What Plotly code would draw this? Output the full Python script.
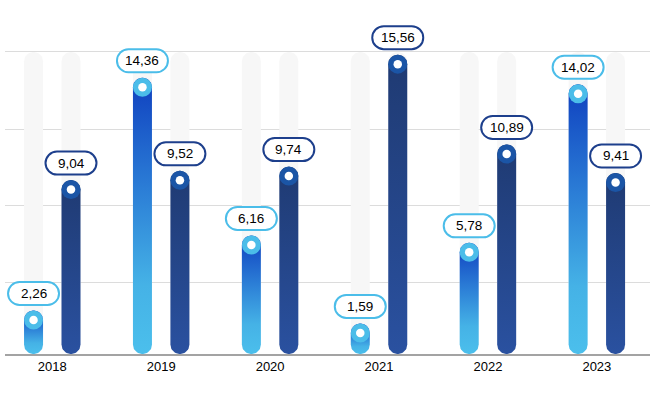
import numpy as np
import plotly.graph_objects as go

# ---------------- data ----------------
years = ["2018", "2019", "2020", "2021", "2022", "2023"]
series_light = [2.26, 14.36, 6.16, 1.59, 5.78, 14.02]
series_dark = [9.04, 9.52, 9.74, 15.56, 10.89, 9.41]
background_level = 15.70
grid_values = [3.74, 7.74, 11.69, 15.70]

# ---------------- styling / geometry ----------------
W, H = 650, 405
ML, MR, MT, MB = 5, 0, 0, 51
X_RANGE = [-0.434, 5.488]
Y_RANGE = [0, 18.4]
OFFSET = 0.172          # half distance between paired bars (x units)
BAR_HALF_PX = 9.5

px_per_x = (W - ML - MR) / (X_RANGE[1] - X_RANGE[0])
px_per_y = (H - MT - MB) / (Y_RANGE[1] - Y_RANGE[0])
rx = BAR_HALF_PX / px_per_x
ry = BAR_HALF_PX / px_per_y

LIGHT_SCALE = [[0, "#4bbfec"], [0.25, "#45b2e6"], [0.6, "#2b7dd6"], [1, "#0f40bf"]]
DARK_SCALE = [[0, "#2a51a0"], [1, "#1f3a72"]]
LIGHT_RING = "#4bbde9"
DARK_RING = "#1b55a6"
LIGHT_BORDER = "#4bbde9"
DARK_BORDER = "#1d3f8c"
BG_BAR = "#f7f7f7"
FONT = "Liberation Sans, Arial, sans-serif"


def stadium(xc, top, n=24):
    """Rounded bar outline from 0 to `top` in data units."""
    th1 = np.linspace(0, np.pi, n)
    th2 = np.linspace(np.pi, 2 * np.pi, n)
    xs = np.concatenate([xc + rx * np.cos(th1), xc + rx * np.cos(th2)])
    ys = np.concatenate([(top - ry) + ry * np.sin(th1), ry + ry * np.sin(th2)])
    xs = np.append(xs, xs[0])
    ys = np.append(ys, ys[0])
    return xs, ys


def pill_path(w=51, h=23, gap=5.5):
    x0, x1 = -w / 2, w / 2
    y0, y1 = gap, gap + h
    r = h / 2
    ym = (y0 + y1) / 2
    k = 0.5523 * r
    return (f"M {x0 + r},{y0} L {x1 - r},{y0} "
            f"C {x1 - r + k},{y0} {x1},{ym - k} {x1},{ym} "
            f"C {x1},{ym + k} {x1 - r + k},{y1} {x1 - r},{y1} "
            f"L {x0 + r},{y1} "
            f"C {x0 + r - k},{y1} {x0},{ym + k} {x0},{ym} "
            f"C {x0},{ym - k} {x0 + r - k},{y0} {x0 + r},{y0} Z")


fig = go.Figure()
idx = np.arange(len(years))
x_light = idx - OFFSET
x_dark = idx + OFFSET

# background grey columns
for xc in list(x_light) + list(x_dark):
    xs, ys = stadium(xc, background_level)
    fig.add_trace(go.Scatter(x=xs, y=ys, mode="lines", fill="toself",
                             fillcolor=BG_BAR, line=dict(width=0),
                             hoverinfo="skip", showlegend=False))

# bars with gradients
for xc, v in zip(x_light, series_light):
    xs, ys = stadium(xc, v)
    fig.add_trace(go.Scatter(x=xs, y=ys, mode="lines", fill="toself",
                             fillgradient=dict(type="vertical", colorscale=LIGHT_SCALE),
                             line=dict(width=0), hoverinfo="skip", showlegend=False))
for xc, v in zip(x_dark, series_dark):
    xs, ys = stadium(xc, v)
    fig.add_trace(go.Scatter(x=xs, y=ys, mode="lines", fill="toself",
                             fillgradient=dict(type="vertical", colorscale=DARK_SCALE),
                             line=dict(width=0), hoverinfo="skip", showlegend=False))

# end markers (ring + white dot)
for xsr, vals, ring in [(x_light, series_light, LIGHT_RING), (x_dark, series_dark, DARK_RING)]:
    cy = [v - ry for v in vals]
    fig.add_trace(go.Scatter(x=xsr, y=cy, mode="markers",
                             marker=dict(size=19, color=ring, line=dict(width=0)),
                             hoverinfo="skip", showlegend=False))
    fig.add_trace(go.Scatter(x=xsr, y=cy, mode="markers",
                             marker=dict(size=8.5, color="white", line=dict(width=0)),
                             hoverinfo="skip", showlegend=False))

# value labels
shapes = []
annotations = []
for xsr, vals, border in [(x_light, series_light, LIGHT_BORDER), (x_dark, series_dark, DARK_BORDER)]:
    for xc, v in zip(xsr, vals):
        shapes.append(dict(type="path", xref="x", yref="y",
                           xsizemode="pixel", ysizemode="pixel",
                           xanchor=xc, yanchor=v, path=pill_path(),
                           fillcolor="white", line=dict(color=border, width=2)))
        annotations.append(dict(x=xc, y=v, xref="x", yref="y", yshift=17,
                                text=f"{v:.2f}".replace(".", ","), showarrow=False,
                                font=dict(family=FONT, size=13.5, color="#000000")))

fig.update_layout(
    width=W, height=H,
    margin=dict(l=ML, r=MR, t=MT, b=MB),
    paper_bgcolor="white", plot_bgcolor="white",
    shapes=shapes, annotations=annotations,
    showlegend=False,
    xaxis=dict(range=X_RANGE, tickmode="array", tickvals=list(idx), ticktext=years,
               showgrid=False, zeroline=False, showline=True, linecolor="#a3a3a3",
               linewidth=1.5, ticks="", tickfont=dict(family=FONT, size=13, color="#000000"),
               fixedrange=True),
    yaxis=dict(range=Y_RANGE, tickmode="array", tickvals=grid_values, showticklabels=False,
               showgrid=True, gridcolor="#dcdcdc", gridwidth=1, zeroline=False,
               showline=False, fixedrange=True),
)

fig.write_html("out.html", config={"displayModeBar": False},
               post_script="document.body.style.margin='0';document.body.style.padding='0';")
